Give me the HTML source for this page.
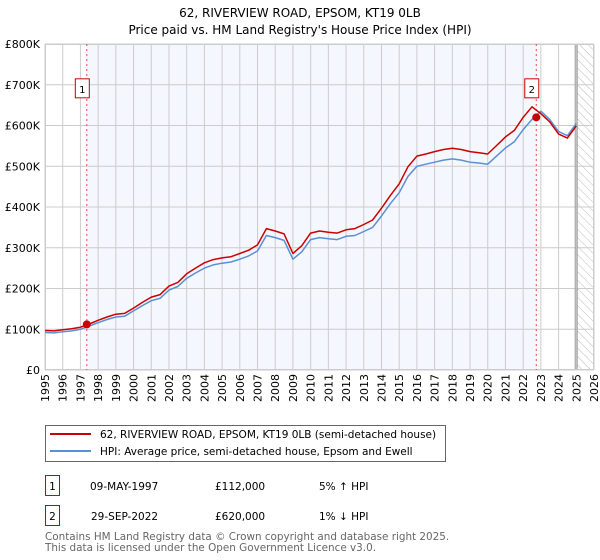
<!DOCTYPE html>
<html><head><meta charset="utf-8">
<style>
body{margin:0;background:#fff;font-family:"DejaVu Sans","Liberation Sans",sans-serif;}
#wrap{position:relative;width:600px;height:560px;overflow:hidden;}
svg text{font-family:"DejaVu Sans","Liberation Sans",sans-serif;}
</style></head>
<body>
<div id="wrap">
<svg id="chart" width="600" height="560">
<text x="300" y="17" text-anchor="middle" font-size="12" fill="#000">62, RIVERVIEW ROAD, EPSOM, KT19 0LB</text>
<text x="300" y="34" text-anchor="middle" font-size="12" fill="#000">Price paid vs. HM Land Registry's House Price Index (HPI)</text>
<defs>
<pattern id="hatch" width="6" height="6" patternUnits="userSpaceOnUse" patternTransform="rotate(-45)">
<line x1="0" y1="0" x2="0" y2="6" stroke="#bbb" stroke-width="1"/>
</pattern>
</defs>
<g id="plot"></g>
<rect x="45.5" y="425.5" width="400" height="36" fill="#fff" stroke="#666"/>
<line x1="50" y1="434" x2="91" y2="434" stroke="#cc0000" stroke-width="2"/>
<text x="100" y="438" font-size="10.5">62, RIVERVIEW ROAD, EPSOM, KT19 0LB (semi-detached house)</text>
<line x1="50" y1="451" x2="91" y2="451" stroke="#5b8fd4" stroke-width="2"/>
<text x="100" y="455" font-size="10.5">HPI: Average price, semi-detached house, Epsom and Ewell</text>
<rect x="45.5" y="475.5" width="14" height="20" fill="#fff" stroke="#cc0000"/>
<text x="52.5" y="490" font-size="10.5" text-anchor="middle">1</text>
<text x="90" y="490" font-size="10.5">09-MAY-1997</text>
<text x="215" y="490" font-size="10.5">£112,000</text>
<text x="319" y="490" font-size="10.5">5% ↑ HPI</text>
<rect x="45.5" y="505.5" width="14" height="20" fill="#fff" stroke="#cc0000"/>
<text x="52.5" y="520" font-size="10.5" text-anchor="middle">2</text>
<text x="91" y="520" font-size="10.5">29-SEP-2022</text>
<text x="215" y="520" font-size="10.5">£620,000</text>
<text x="319" y="520" font-size="10.5">1% ↓ HPI</text>
<text x="45" y="540" font-size="10.4" fill="#666">Contains HM Land Registry data © Crown copyright and database right 2025.</text>
<text x="45" y="551" font-size="10.4" fill="#666">This data is licensed under the Open Government Licence v3.0.</text>
</svg>
</div>
<script>
const years = [1995,1995.5,1996,1996.5,1997,1997.5,1998,1998.5,1999,1999.5,2000,2000.5,2001,2001.5,2002,2002.5,2003,2003.5,2004,2004.5,2005,2005.5,2006,2006.5,2007,2007.5,2008,2008.5,2009,2009.5,2010,2010.5,2011,2011.5,2012,2012.5,2013,2013.5,2014,2014.5,2015,2015.5,2016,2016.5,2017,2017.5,2018,2018.5,2019,2019.5,2020,2020.5,2021,2021.5,2022,2022.5,2023,2023.5,2024,2024.5,2025];
const hpiValues = [92,91,94,96,100,108,116,124,130,132,145,158,170,176,196,205,225,238,250,258,262,265,272,280,292,330,325,318,272,290,320,325,322,320,328,330,340,350,378,408,435,475,500,505,510,515,518,515,510,508,505,525,545,560,590,615,635,615,585,575,605];
const propValues = [97,96,99,101,105,113,122,130,137,139,152,166,179,185,206,215,236,250,263,271,275,278,286,294,307,347,341,334,286,305,336,341,338,336,344,347,357,368,397,428,457,499,525,530,536,541,544,541,536,533,530,551,572,588,620,646,629,609,579,569,599];
const saleYears = [1997.36,2022.74];
const salePrices = [112,620];
const saleLabels = ['1','2'];
const yTicks = [0,100,200,300,400,500,600,700,800];
const yTickLabels = ['£0','£100K','£200K','£300K','£400K','£500K','£600K','£700K','£800K'];
const xTicks = [1995,1996,1997,1998,1999,2000,2001,2002,2003,2004,2005,2006,2007,2008,2009,2010,2011,2012,2013,2014,2015,2016,2017,2018,2019,2020,2021,2022,2023,2024,2025,2026];
const dataEndYear = 2025.05;

const L=45,R=594,T=44,B=370;
const xs = y => L + (y-1995)/(2026-1995)*(R-L);
const ys = v => B - v/800*(B-T);
const NS='http://www.w3.org/2000/svg';
const g=document.getElementById('plot');
function mk(tag,attrs){const e=document.createElementNS(NS,tag);for(const k in attrs)e.setAttribute(k,attrs[k]);g.appendChild(e);return e;}

let e=mk('rect',{x:xs(saleYears[0]),y:T,width:xs(saleYears[1])-xs(saleYears[0]),height:B-T,fill:'#f4f7fe'});


e=mk('rect',{x:xs(dataEndYear),y:T,width:R-xs(dataEndYear),height:B-T,fill:'url(#hatch)'});



xTicks.forEach(t=>{
  const x=xs(t);
  const l=mk('line',{x1:x,y1:T,x2:x,y2:B,stroke:'#cccccc','stroke-width':1});
  
  
  const tx=mk('text',{x:0,y:0,'font-size':11,'text-anchor':'end',transform:`translate(${x+4},${B+4}) rotate(-90)`});
  tx.textContent=t;
  
  
});
yTicks.forEach((t,i)=>{
  const y=ys(t);
  const l=mk('line',{x1:L,y1:y,x2:R,y2:y,stroke:'#cccccc','stroke-width':1});
  
  
  const tx=mk('text',{x:L-5,y:y+4,'font-size':11,'text-anchor':'end'});
  tx.textContent=yTickLabels[i];
  
  
});
e=mk('line',{x1:xs(dataEndYear)-2,y1:T,x2:xs(dataEndYear)-2,y2:B,stroke:'#999','stroke-width':1});


e=mk('line',{x1:xs(dataEndYear),y1:T,x2:xs(dataEndYear),y2:B,stroke:'#999','stroke-width':1});


e=mk('rect',{x:L+0.5,y:T+0.5,width:R-L-1,height:B-T-1,fill:'none',stroke:'#cccccc'});



saleYears.forEach((s,i)=>{
  const x=xs(s);
  const l=mk('line',{x1:x,y1:T,x2:x,y2:B,stroke:'#ee4444','stroke-width':1,'stroke-dasharray':'2,3'});
  
  
});

function path(vals,color,name){
  const d=vals.map((v,i)=>(i?'L':'M')+xs(years[i]).toFixed(1)+','+ys(v).toFixed(1)).join(' ');
  const p=mk('path',{d:d,fill:'none',stroke:color,'stroke-width':1.5,'stroke-linejoin':'round'});
  
  
}
path(hpiValues,'#5b8fd4','hpi-line');
path(propValues,'#cc0000','property-price-line');

saleYears.forEach((s,i)=>{
  const c=mk('circle',{cx:xs(s),cy:ys(salePrices[i]),r:4,fill:'#cc0000'});
  
  
  const bx=mk('rect',{x:xs(s)-11.5,y:ys(690)-10,width:14,height:19,fill:'#fff',stroke:'#cc0000'});
  
  
  const t=mk('text',{x:xs(s)-4.5,y:ys(690)+4,'font-size':10,'text-anchor':'middle'});
  t.textContent=saleLabels[i];
  
  
});
</script>
</body></html>
